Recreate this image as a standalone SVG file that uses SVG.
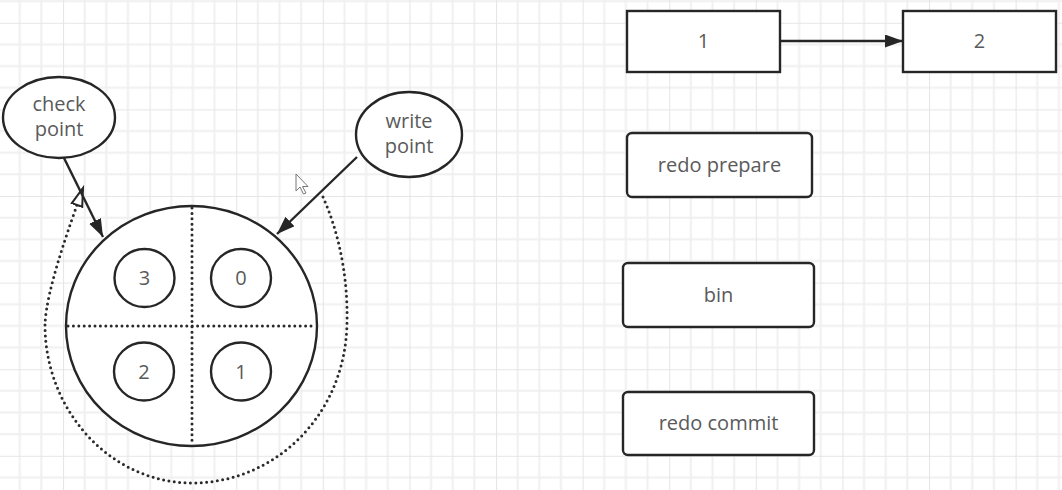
<svg xmlns="http://www.w3.org/2000/svg" width="1062" height="490" viewBox="0 0 1062 490">
<style>
.txt{font-family:"Open Sans","Noto Sans","Liberation Sans",sans-serif;font-size:20px;fill:#5a5a5a;text-anchor:middle}
.shape{fill:#fff;stroke:#262626;stroke-width:2.4}
.dot{fill:none;stroke:#2a2a2a;stroke-width:3;stroke-dasharray:0 5.4;stroke-linecap:round}
.conn{fill:none;stroke:#262626;stroke-width:2.4}
</style>
<defs>
<pattern id="grid" patternUnits="userSpaceOnUse" x="63" y="22.8" width="86.6" height="86.6">
<path d="M21.65 0V86.6M43.3 0V86.6M64.95 0V86.6M0 21.65H86.6M0 43.3H86.6M0 64.95H86.6" stroke="#f0f0f0" stroke-width="2" fill="none"/>
<path d="M0 0V86.6M0 0H86.6" stroke="#e6e6e6" stroke-width="2.2" fill="none"/>
</pattern>
<marker id="arr" markerUnits="userSpaceOnUse" markerWidth="20" markerHeight="14" refX="18" refY="6.5" orient="auto">
<path d="M0 0L18 6.5L0 13z" fill="#262626"/>
</marker>
<marker id="hollow" markerUnits="userSpaceOnUse" markerWidth="22" markerHeight="16" refX="19" refY="7" orient="auto">
<path d="M1 1.5L19 7L1 12.5z" fill="#fff" stroke="#262626" stroke-width="2" stroke-dasharray="none"/>
</marker>
</defs>
<rect width="1062" height="490" fill="#fff"/>
<rect width="1062" height="490" fill="url(#grid)"/>

<g id="connectors">
<path class="dot" d="M323 197C340 235 348 280 347 322C346 415 275 483 192 483C110 483 45 410 45 325C46 290 70 225 83 188" marker-end="url(#hollow)"/>
<line class="conn" x1="64" y1="158" x2="103" y2="237" marker-end="url(#arr)"/>
<line class="conn" x1="357" y1="157" x2="277" y2="234" marker-end="url(#arr)"/>
<line class="conn" x1="780" y1="41" x2="903" y2="41" marker-end="url(#arr)"/>
</g>

<g id="ring">
<ellipse class="shape" cx="191.5" cy="326" rx="125.5" ry="120"/>
<line class="dot" x1="68" y1="326" x2="315" y2="326"/>
<line class="dot" x1="192" y1="208" x2="192" y2="444"/>
</g>
<g id="slot3"><ellipse class="shape" cx="144.5" cy="278" rx="30" ry="29"/><text class="txt" x="144.5" y="285">3</text></g>
<g id="slot0"><ellipse class="shape" cx="241" cy="278" rx="30" ry="29"/><text class="txt" x="241" y="285">0</text></g>
<g id="slot2"><ellipse class="shape" cx="144" cy="371.5" rx="30" ry="29"/><text class="txt" x="144" y="378.5">2</text></g>
<g id="slot1"><ellipse class="shape" cx="241" cy="371.5" rx="30" ry="29"/><text class="txt" x="241" y="378.5">1</text></g>

<g id="checkpoint"><ellipse class="shape" cx="59" cy="117.5" rx="56" ry="40.5"/><text class="txt" x="59" y="111">check</text><text class="txt" x="59" y="136">point</text></g>
<g id="writepoint"><ellipse class="shape" cx="409" cy="134.5" rx="53" ry="42.5"/><text class="txt" x="409" y="128">write</text><text class="txt" x="409" y="153">point</text></g>

<g id="box1"><rect class="shape" x="627" y="11" width="153" height="61"/><text class="txt" x="703.5" y="48">1</text></g>
<g id="box2"><rect class="shape" x="903" y="11" width="153" height="61"/><text class="txt" x="979.5" y="48">2</text></g>
<g id="redoprepare"><rect class="shape" x="627" y="133" width="185" height="64" rx="5"/><text class="txt" x="719.5" y="172">redo prepare</text></g>
<g id="bin"><rect class="shape" x="623" y="263" width="191" height="64" rx="5"/><text class="txt" x="718.5" y="302">bin</text></g>
<g id="redocommit"><rect class="shape" x="623" y="392" width="191" height="63" rx="5"/><text class="txt" x="718.5" y="430">redo commit</text></g>

<path d="M296 174V191L300 187L303.5 194L306 193L302.5 186.5L308 186.5Z" fill="#fff" stroke="#777" stroke-width="1"/>
</svg>
